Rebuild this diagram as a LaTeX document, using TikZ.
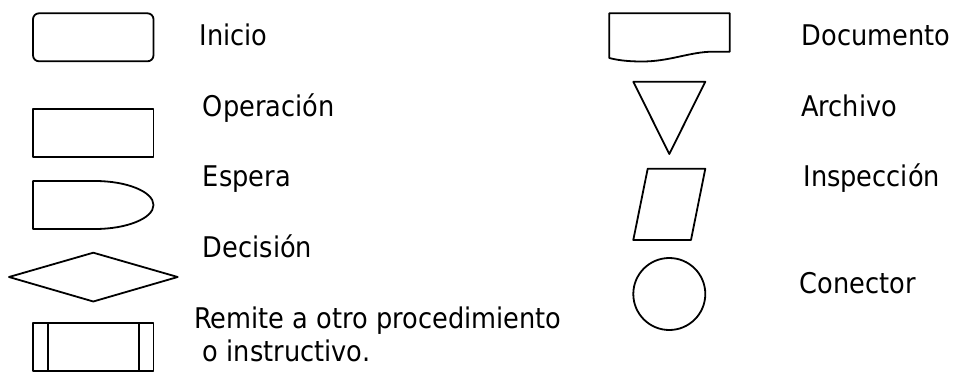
\documentclass[tikz,border=0pt]{standalone}
\usepackage{fontspec}
\setmainfont{DejaVu Sans}[FakeStretch=0.9]
\begin{document}
\begin{tikzpicture}[x=1pt,y=-1pt,
  shp/.style={draw=black,line width=1.8pt,line join=round},
  lbl/.style={anchor=base west,inner sep=0pt,font=\fontsize{28.5}{34}\selectfont}]
\useasboundingbox (0,0) rectangle (954,375);
% left column shapes
\draw[shp,rounded corners=6pt] (33,13.3) rectangle (153.5,61.3);
\draw[shp] (33,109) rectangle (153.5,156.7);
\draw[shp] (95,181) -- (33,181) -- (33,229) -- (95,229)
  .. controls (127,229) and (153.5,218.2) .. (153.5,205)
  .. controls (153.5,191.8) and (127,181) .. (95,181) -- cycle;
\draw[shp] (9,277) -- (93.3,252.7) -- (177.7,277) -- (93.3,301.5) -- cycle;
\draw[shp] (33,322.7) rectangle (153.5,371);
\draw[shp] (47.7,322.7) -- (47.7,371);
\draw[shp] (138.7,322.7) -- (138.7,371);
% right column shapes
\draw[shp] (609.3,58) -- (609.3,13.3) -- (729.7,13.3) -- (729.7,51.7) -- (713,51.7)
  .. controls (690,51.7) and (670,61.5) .. (642,61.5)
  .. controls (625,61.5) and (615,59.5) .. (609.3,58) -- cycle;
\draw[shp] (633.3,81.7) -- (705.3,81.7) -- (669.3,154) -- cycle;
\draw[shp] (647.7,168.7) -- (705.3,168.7) -- (691,240) -- (633.3,240) -- cycle;
\draw[shp] (669.3,294) circle[radius=36];
% labels
\node[lbl] (tinicio) at (199.3,45.7) {Inicio};
\node[lbl] (toper) at (202.7,116.7) {Operación};
\node[lbl] (tesp) at (202.7,186.7) {Espera};
\node[lbl] (tdec) at (202.7,257.3) {Decisión};
\node[lbl] (trem) at (194,328.3) {Remite a otro procedimiento};
\node[lbl] (trem2) at (202.7,361.7) {o instructivo.};
\node[lbl] (tdoc) at (801.7,45.7) {Documento};
\node[lbl] (tarch) at (801,116.7) {Archivo};
\node[lbl] (tinsp) at (803.3,186.7) {Inspección};
\node[lbl] (tcon) at (799.3,293.3) {Conector};
\end{tikzpicture}
\end{document}
